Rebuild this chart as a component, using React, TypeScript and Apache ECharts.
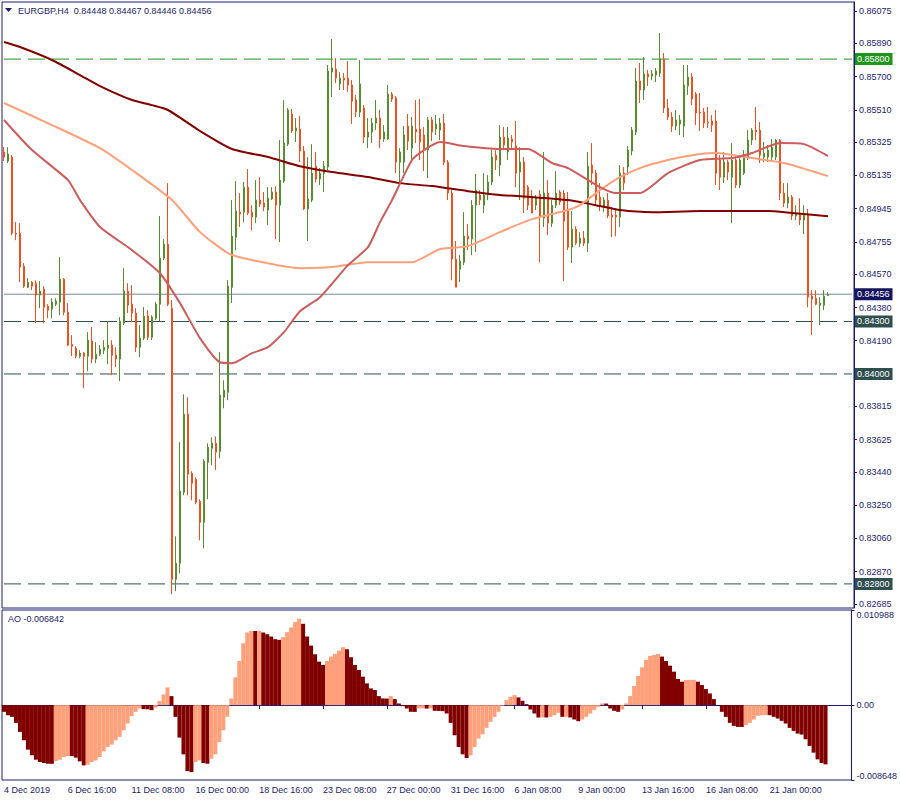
import React, { useEffect, useRef } from "react";
import * as echarts from "echarts";

const SYMBOL = "EURGBP,H4";
const TRADING_DAYS = ["4 Dec","5 Dec","6 Dec","9 Dec","10 Dec","11 Dec","12 Dec","13 Dec","16 Dec","17 Dec","18 Dec","19 Dec","20 Dec","23 Dec","24 Dec","26 Dec","27 Dec","30 Dec","31 Dec","2 Jan","3 Jan","6 Jan","7 Jan","8 Jan","9 Jan","10 Jan","13 Jan","14 Jan","15 Jan","16 Jan","17 Jan","20 Jan","21 Jan","22 Jan","23 Jan"];
const HOURS = ["00:00","04:00","08:00","12:00","16:00","20:00"];
const BAR_COUNT = 207;
const EMPTY_RIGHT = 6;
const LABEL_EVERY = 16;
const FIRST_LABEL = "4 Dec 2019";

// [open, close, low, high]
const CANDLES = [
[0.85269,0.85240,0.85217,0.85297],[0.85217,0.85257,0.85206,0.85297],[0.85240,0.84805,0.84794,0.85251],[0.84805,0.84800,0.84765,0.84868],
[0.84805,0.84611,0.84525,0.84862],[0.84616,0.84502,0.84491,0.84634],[0.84496,0.84525,0.84491,0.84548],[0.84525,0.84502,0.84479,0.84531],
[0.84519,0.84451,0.84290,0.84536],[0.84451,0.84474,0.84376,0.84531],[0.84485,0.84382,0.84290,0.84502],[0.84388,0.84365,0.84319,0.84399],
[0.84371,0.84411,0.84319,0.84433],[0.84399,0.84416,0.84388,0.84433],[0.84411,0.84542,0.84336,0.84668],[0.84542,0.84353,0.84336,0.84548],
[0.84353,0.84165,0.84159,0.84405],[0.84170,0.84159,0.84102,0.84222],[0.84147,0.84102,0.84090,0.84159],[0.84102,0.84119,0.84090,0.84136],
[0.84119,0.84102,0.83919,0.84125],[0.84102,0.84193,0.84016,0.84239],[0.84188,0.84085,0.84062,0.84268],[0.84085,0.84113,0.84062,0.84182],
[0.84113,0.84142,0.84102,0.84165],[0.84136,0.84153,0.84113,0.84193],[0.84147,0.84165,0.84056,0.84302],[0.84165,0.84107,0.83993,0.84193],
[0.84107,0.84085,0.84039,0.84153],[0.84085,0.84302,0.83959,0.84325],[0.84290,0.84474,0.84279,0.84605],[0.84474,0.84393,0.84348,0.84519],
[0.84399,0.84348,0.84296,0.84508],[0.84348,0.84153,0.84125,0.84376],[0.84153,0.84205,0.84096,0.84279],[0.84205,0.84331,0.84193,0.84382],
[0.84331,0.84210,0.84193,0.84365],[0.84210,0.84325,0.84193,0.84336],[0.84319,0.84399,0.84308,0.84411],[0.84399,0.84662,0.84302,0.84903],
[0.84662,0.84742,0.84651,0.84771],[0.84742,0.84399,0.84388,0.85091],[0.84376,0.82826,0.82741,0.84422],[0.82826,0.82918,0.82758,0.83072],
[0.82918,0.83330,0.82860,0.83610],[0.83324,0.83770,0.83307,0.83884],[0.83770,0.83427,0.83307,0.83867],[0.83432,0.83375,0.83278,0.83444],
[0.83398,0.83267,0.83255,0.83410],[0.83272,0.83152,0.83049,0.83284],[0.83152,0.83501,0.83003,0.83513],[0.83495,0.83581,0.83284,0.83604],
[0.83575,0.83604,0.83478,0.83638],[0.83604,0.83553,0.83450,0.83644],[0.83558,0.83879,0.83518,0.84125],[0.83867,0.83907,0.83804,0.83964],
[0.83896,0.84502,0.83850,0.84536],[0.84496,0.84788,0.84405,0.84994],[0.84782,0.84931,0.84708,0.85103],[0.84925,0.84914,0.84840,0.85034],
[0.84925,0.85068,0.84868,0.85097],[0.85068,0.84920,0.84908,0.85171],[0.84925,0.84897,0.84822,0.84965],[0.84897,0.84994,0.84862,0.85108],
[0.84994,0.84971,0.84954,0.85125],[0.84977,0.84954,0.84931,0.85040],[0.84937,0.85005,0.84851,0.85068],[0.85000,0.85040,0.84994,0.85068],
[0.85040,0.84965,0.84771,0.85074],[0.84965,0.85108,0.84754,0.85337],[0.85103,0.85320,0.85091,0.85566],[0.85314,0.85509,0.85303,0.85520],
[0.85486,0.85389,0.85377,0.85515],[0.85389,0.85406,0.85326,0.85463],[0.85400,0.85274,0.85211,0.85475],[0.85274,0.84943,0.84937,0.85303],
[0.84943,0.85000,0.84760,0.85240],[0.84994,0.85148,0.84983,0.85314],[0.85188,0.85114,0.85097,0.85269],[0.85114,0.85148,0.85080,0.85177],
[0.85148,0.85188,0.85040,0.85217],[0.85183,0.85732,0.85166,0.85766],[0.85726,0.85749,0.85583,0.85915],[0.85743,0.85692,0.85663,0.85806],
[0.85658,0.85692,0.85623,0.85726],[0.85692,0.85680,0.85623,0.85720],[0.85692,0.85652,0.85612,0.85789],[0.85652,0.85560,0.85429,0.85680],
[0.85566,0.85497,0.85469,0.85595],[0.85497,0.85658,0.85469,0.85795],[0.85520,0.85354,0.85320,0.85537],[0.85354,0.85383,0.85291,0.85463],
[0.85383,0.85434,0.85320,0.85463],[0.85434,0.85463,0.85394,0.85566],[0.85463,0.85343,0.85291,0.85509],[0.85343,0.85383,0.85326,0.85423],
[0.85343,0.85600,0.85337,0.85652],[0.85600,0.85572,0.85555,0.85612],[0.85577,0.85211,0.85148,0.85589],[0.85211,0.85269,0.85097,0.85291],
[0.85211,0.85366,0.85148,0.85417],[0.85417,0.85331,0.85280,0.85486],[0.85291,0.85417,0.85223,0.85469],[0.85400,0.85383,0.85320,0.85566],
[0.85400,0.85326,0.85223,0.85572],[0.85366,0.85280,0.85160,0.85412],[0.85280,0.85452,0.85120,0.85469],[0.85452,0.85383,0.85331,0.85469],
[0.85400,0.85429,0.85366,0.85480],[0.85394,0.85434,0.85337,0.85463],[0.85434,0.85211,0.85194,0.85486],[0.85211,0.85034,0.84994,0.85223],
[0.85034,0.84657,0.84536,0.85051],[0.84657,0.84496,0.84496,0.84760],[0.84599,0.84645,0.84525,0.84679],[0.84639,0.84788,0.84622,0.84925],
[0.84788,0.84771,0.84708,0.84857],[0.84771,0.84965,0.84679,0.84994],[0.84965,0.85051,0.84697,0.85143],[0.85023,0.84994,0.84965,0.85051],
[0.84965,0.85023,0.84920,0.85148],[0.85023,0.85097,0.84994,0.85137],[0.85097,0.85240,0.85080,0.85291],[0.85251,0.85223,0.85166,0.85280],
[0.85194,0.85354,0.85131,0.85423],[0.85354,0.85309,0.85280,0.85412],[0.85269,0.85349,0.85223,0.85412],[0.85343,0.85326,0.85280,0.85366],
[0.85303,0.85148,0.85068,0.85446],[0.85154,0.85211,0.84994,0.85297],[0.85211,0.85005,0.84920,0.85240],[0.85068,0.84965,0.84937,0.85080],
[0.85017,0.84920,0.84920,0.85051],[0.84965,0.85005,0.84937,0.85023],[0.85028,0.84897,0.84639,0.85051],[0.84891,0.85034,0.84840,0.85269],
[0.85034,0.84862,0.84794,0.85108],[0.84862,0.84965,0.84840,0.84994],[0.84965,0.85034,0.84948,0.85160],[0.85040,0.84983,0.84965,0.85051],
[0.85034,0.84874,0.84531,0.85051],[0.84937,0.84725,0.84708,0.85040],[0.84725,0.84828,0.84634,0.84931],[0.84828,0.84748,0.84737,0.84845],
[0.84748,0.84777,0.84725,0.84811],[0.84777,0.84748,0.84731,0.84817],[0.84748,0.85188,0.84697,0.85269],[0.85194,0.85148,0.85080,0.85320],
[0.85148,0.84994,0.84965,0.85166],[0.85011,0.84960,0.84931,0.85091],[0.84954,0.84994,0.84925,0.85011],[0.84994,0.84903,0.84891,0.85034],
[0.84908,0.84897,0.84782,0.84954],[0.84908,0.84897,0.84788,0.84948],[0.84897,0.85148,0.84840,0.85194],[0.85148,0.85091,0.85051,0.85183],
[0.85183,0.85280,0.85137,0.85303],[0.85274,0.85394,0.85251,0.85412],[0.85383,0.85675,0.85366,0.85749],[0.85675,0.85623,0.85549,0.85778],
[0.85623,0.85715,0.85566,0.85812],[0.85715,0.85698,0.85646,0.85738],[0.85703,0.85715,0.85680,0.85738],[0.85709,0.85732,0.85669,0.85749],
[0.85720,0.85801,0.85698,0.85949],[0.85801,0.85520,0.85492,0.85835],[0.85520,0.85469,0.85452,0.85572],[0.85469,0.85417,0.85383,0.85497],
[0.85417,0.85452,0.85394,0.85509],[0.85429,0.85452,0.85366,0.85480],[0.85417,0.85652,0.85354,0.85766],[0.85646,0.85698,0.85595,0.85766],
[0.85698,0.85572,0.85537,0.85720],[0.85600,0.85492,0.85423,0.85612],[0.85497,0.85492,0.85389,0.85606],[0.85497,0.85434,0.85406,0.85520],
[0.85440,0.85434,0.85406,0.85526],[0.85446,0.85423,0.85383,0.85480],[0.85446,0.85148,0.85080,0.85509],[0.85223,0.85125,0.85051,0.85251],
[0.85125,0.85211,0.85091,0.85269],[0.85211,0.85154,0.85108,0.85223],[0.85125,0.85223,0.84862,0.85320],[0.85223,0.85080,0.85063,0.85251],
[0.85080,0.85223,0.85063,0.85234],[0.85148,0.85240,0.85137,0.85280],[0.85240,0.85337,0.85223,0.85394],[0.85337,0.85394,0.85309,0.85406],
[0.85394,0.85383,0.85337,0.85526],[0.85394,0.85251,0.85206,0.85440],[0.85240,0.85263,0.85211,0.85326],[0.85240,0.85280,0.85211,0.85309],
[0.85240,0.85297,0.85223,0.85343],[0.85240,0.85337,0.85223,0.85343],[0.85337,0.85034,0.84994,0.85343],[0.85034,0.84977,0.84954,0.85091],
[0.84977,0.85011,0.84948,0.85091],[0.85011,0.84903,0.84880,0.85023],[0.84903,0.84920,0.84880,0.84965],[0.84920,0.84880,0.84851,0.85005],
[0.84880,0.84908,0.84800,0.84965],[0.84908,0.84439,0.84382,0.84943],[0.84445,0.84428,0.84222,0.84479],[0.84433,0.84399,0.84393,0.84479],
[0.84393,0.84405,0.84279,0.84439],[0.84393,0.84445,0.84365,0.84479],[0.84448,0.84456,0.84446,0.84467]
];

// moving averages, [bar index, value]
const MA_SLOW = [[0,0.85898],[4,0.85869],[12,0.85795],[19,0.85709],[24,0.85646],[32,0.85566],[37,0.85537],[41,0.85509],[49,0.85389],[57,0.85286],[66,0.85240],[74,0.85188],[82,0.85154],[91,0.85126],[99,0.85091],[107,0.85074],[116,0.85045],[124,0.85023],[132,0.85011],[141,0.84994],[149,0.84960],[154,0.84937],[162,0.84925],[174,0.84931],[191,0.84931],[197,0.84920],[206,0.84902]];
const MA_MID = [[0,0.85549],[12,0.85423],[24,0.85291],[32,0.85166],[42,0.84994],[49,0.84811],[56,0.84691],[62,0.84651],[74,0.84605],[82,0.84611],[91,0.84639],[102,0.84639],[106,0.84679],[109,0.84714],[116,0.84731],[124,0.84811],[132,0.84885],[141,0.84937],[144,0.84965],[149,0.85051],[154,0.85125],[159,0.85177],[166,0.85223],[174,0.85257],[178,0.85263],[187,0.85234],[195,0.85206],[206,0.85131]];
const MA_FAST = [[0,0.85452],[7,0.85280],[16,0.85108],[19,0.84994],[24,0.84840],[32,0.84708],[39,0.84576],[44,0.84405],[49,0.84205],[54,0.84067],[57,0.84062],[62,0.84119],[66,0.84153],[70,0.84239],[74,0.84359],[79,0.84439],[86,0.84622],[91,0.84725],[94,0.84868],[97,0.84994],[102,0.85223],[105,0.85280],[109,0.85326],[115,0.85303],[124,0.85286],[131,0.85286],[137,0.85206],[141,0.85177],[149,0.85068],[153,0.85034],[159,0.85034],[166,0.85148],[174,0.85223],[182,0.85234],[187,0.85263],[194,0.85320],[200,0.85314],[206,0.85246]];

const AO = [
-0.000773,-0.001160,-0.001353,-0.002049,-0.003093,-0.004059,-0.005142,-0.005799,-0.006302,-0.006572,
-0.006688,-0.006766,-0.006780,-0.006456,-0.006302,-0.005992,-0.005876,-0.005880,-0.006070,-0.006495,
-0.006959,-0.006882,-0.006572,-0.006379,-0.005992,-0.005335,-0.004833,-0.004562,-0.004059,-0.003673,
-0.002900,-0.002126,-0.001276,-0.000773,-0.000387,-0.000464,-0.000480,-0.000580,-0.000309,0.000464,
0.001237,0.002049,0.001044,-0.001353,-0.003750,-0.005683,-0.007616,-0.007732,-0.006572,-0.006379,
-0.006688,-0.006766,-0.006186,-0.005683,-0.004253,-0.002900,-0.001353,0.000773,0.003209,0.005103,
0.007152,0.008389,0.008583,0.008560,0.008590,0.008389,0.008196,0.007925,0.007616,0.007539,
0.007848,0.008428,0.008969,0.009588,0.009974,0.009394,0.007925,0.006881,0.005876,0.005026,
0.004639,0.005103,0.005606,0.005915,0.006302,0.006688,0.006456,0.005528,0.004639,0.004059,
0.003286,0.002513,0.001933,0.001740,0.001044,0.000773,0.000760,0.001044,0.000696,0.000193,
-0.000116,-0.000387,-0.000773,-0.000780,-0.000387,-0.000380,-0.000400,-0.000390,-0.000657,-0.000670,
-0.000696,-0.000967,-0.002049,-0.003479,-0.004833,-0.005683,-0.006108,-0.005799,-0.004833,-0.003866,
-0.003363,-0.002629,-0.001933,-0.001353,-0.000773,-0.000077,0.000580,0.000967,0.001160,0.000889,
0.000503,0.000116,-0.000503,-0.000967,-0.001430,-0.001420,-0.001430,-0.001353,-0.001160,-0.000889,
-0.001353,-0.001340,-0.001430,-0.001662,-0.001856,-0.001662,-0.001353,-0.000967,-0.000580,-0.000193,
0.000193,0.000180,-0.000387,-0.000657,-0.000773,-0.000503,0.000193,0.001044,0.002204,0.003363,
0.004369,0.005219,0.005683,0.005799,0.005915,0.005606,0.005103,0.004562,0.003866,0.003015,
0.002706,0.002900,0.002910,0.002920,0.002706,0.002320,0.001856,0.001353,0.000696,-0.000020,
-0.000773,-0.001353,-0.002049,-0.002397,-0.002513,-0.002520,-0.002320,-0.002049,-0.001662,-0.001237,
-0.001160,-0.001150,-0.001160,-0.001353,-0.001546,-0.001817,-0.002126,-0.002629,-0.002977,-0.003286,
-0.003402,-0.003943,-0.004716,-0.005490,-0.006263,-0.006688,-0.006842
];

const PRICE_TICKS = [0.86075,0.85890,0.85700,0.85510,0.85325,0.85135,0.84945,0.84755,0.84570,0.84380,0.84190,0.83815,0.83625,0.83440,0.83250,0.83060,0.82870,0.82685];
const PRICE_RANGE = [0.826622, 0.861264];
const RESISTANCE_LEVELS = [0.858];
const SUPPORT_LEVELS = [0.843, 0.84, 0.828];
const AO_TICKS = [-0.008648, 0, 0.010988];

const NAVY = "#1c1c6e";
const FONT = "Liberation Sans";
const BULL = "#578e2d";
const BEAR = "#f34f1c";
const MAROON = "#800000";
const SALMON = "#ffa07a";
const INDIAN = "#cd5c5c";
const GREEN_LVL = "#1e961e";
const SLATE = "#2f4f4f";
const BID = "#778899";
const BID_BG = "#15155e";

function buildCategories(): string[] {
  const out: string[] = [];
  for (const d of TRADING_DAYS) for (const h of HOURS) out.push(`${d} ${h}`);
  out.length = BAR_COUNT;
  for (let k = 0; k < EMPTY_RIGHT; k++) out.push(`+${k + 1}`);
  return out;
}

export default function App() {
  const ref = useRef<HTMLDivElement>(null);
  useEffect(() => {
    const chart = echarts.init(ref.current!, null, { renderer: "svg" });
    const categories = buildCategories();
    const lastCat = categories.length - 1;
    const showTick = (i: number) => i % LABEL_EVERY === 0 && i < BAR_COUNT;
    const last = CANDLES[CANDLES.length - 1];
    const title = `${SYMBOL}  ${last[0].toFixed(5)} ${last[3].toFixed(5)} ${last[2].toFixed(5)} ${last[1].toFixed(5)}`;

    const levelSeries = (value: number, color: string, bg: string, dashed: boolean) => ({
      type: "line",
      xAxisIndex: 0,
      yAxisIndex: 0,
      silent: true,
      symbol: "none",
      showSymbol: false,
      z: 1,
      data: [[0, value], [lastCat, value]],
      lineStyle: { color, width: 1, type: dashed ? [17, 7] : "solid" },
      emphasis: { disabled: true },
      endLabel: {
        show: true,
        distance: 3,
        formatter: () => value.toFixed(5),
        color: "#ffffff",
        backgroundColor: bg,
        padding: [2, 3, 1, 2],
        fontSize: 9,
        fontFamily: FONT,
      },
    });

    const maLine = (data: number[][], color: string) => ({
      type: "line", xAxisIndex: 0, yAxisIndex: 0, data, symbol: "none", showSymbol: false,
      smooth: 0.2, lineStyle: { color, width: 2 }, z: 3,
    });

    const option: any = {
      animation: false,
      backgroundColor: "#ffffff",
      textStyle: { fontFamily: FONT },
      grid: [
        { left: 2, top: 2, width: 852, height: 606, show: true, borderColor: NAVY, borderWidth: 1, backgroundColor: "#ffffff" },
        { left: 2, top: 610, width: 852, height: 170, show: true, borderColor: NAVY, borderWidth: 1, backgroundColor: "#ffffff" },
      ],
      xAxis: [
        {
          type: "category", gridIndex: 0, data: categories, boundaryGap: true,
          axisLine: { show: false }, axisTick: { show: false }, axisLabel: { show: false }, splitLine: { show: false },
        },
        {
          type: "category", gridIndex: 1, data: categories, boundaryGap: true,
          axisLine: { show: true, lineStyle: { color: NAVY } },
          axisTick: { show: true, alignWithLabel: true, interval: showTick, length: 4, lineStyle: { color: NAVY } },
          axisLabel: {
            show: true, interval: showTick, align: "left", color: NAVY, fontSize: 9, fontFamily: FONT, margin: 5,
            formatter: (v: string, i: number) => (i === 0 ? FIRST_LABEL : v),
          },
          splitLine: { show: false },
        },
      ],
      yAxis: [
        {
          type: "value", gridIndex: 0, position: "right", min: PRICE_RANGE[0], max: PRICE_RANGE[1],
          splitLine: { show: false },
          axisLine: { show: true, lineStyle: { color: NAVY } },
          axisTick: { show: true, customValues: PRICE_TICKS, length: 3, lineStyle: { color: NAVY } },
          axisLabel: { show: true, customValues: PRICE_TICKS, formatter: (v: number) => v.toFixed(5), color: NAVY, fontSize: 9, fontFamily: FONT, margin: 5 },
        },
        {
          type: "value", gridIndex: 1, position: "right", min: AO_TICKS[0], max: AO_TICKS[2],
          splitLine: { show: false },
          axisLine: { show: true, lineStyle: { color: NAVY } },
          axisTick: { show: true, customValues: AO_TICKS, length: 3, lineStyle: { color: NAVY } },
          axisLabel: {
            show: true, customValues: AO_TICKS, color: NAVY, fontSize: 9, fontFamily: FONT, margin: 5,
            verticalAlignMaxLabel: "top", verticalAlignMinLabel: "bottom",
            formatter: (v: number) => (v === 0 ? "0.00" : v.toFixed(6)),
          },
        },
      ],
      series: [
        ...RESISTANCE_LEVELS.map((v) => levelSeries(v, GREEN_LVL, GREEN_LVL, true)),
        ...SUPPORT_LEVELS.map((v) => levelSeries(v, SLATE, SLATE, true)),
        levelSeries(last[1], BID, BID_BG, false),
        {
          type: "candlestick", xAxisIndex: 0, yAxisIndex: 0, data: CANDLES, barWidth: 2, z: 2,
          itemStyle: { color: BULL, color0: BEAR, borderColor: BULL, borderColor0: BEAR, borderWidth: 1 },
        },
        maLine(MA_SLOW, MAROON),
        maLine(MA_MID, SALMON),
        maLine(MA_FAST, INDIAN),
        {
          type: "bar", xAxisIndex: 1, yAxisIndex: 1, barWidth: 4,
          data: AO.map((v, i) => ({ value: v, itemStyle: { color: i > 0 && v > AO[i - 1] ? SALMON : MAROON } })),
        },
      ],
      graphic: [
        { type: "polygon", shape: { points: [[5, 8], [12, 8], [8.5, 12]] }, style: { fill: NAVY } },
        { type: "text", x: 18, y: 11, style: { text: title, fill: NAVY, fontSize: 9, fontFamily: FONT, verticalAlign: "middle" } },
        { type: "text", x: 8, y: 619, style: { text: `AO ${AO[AO.length - 1].toFixed(6)}`, fill: NAVY, fontSize: 9, fontFamily: FONT, verticalAlign: "middle" } },
      ],
    };
    chart.setOption(option);
    return () => chart.dispose();
  }, []);
  return <div ref={ref} style={{ position: "fixed", left: 0, top: 0, width: 900, height: 800, background: "#ffffff" }} />;
}
